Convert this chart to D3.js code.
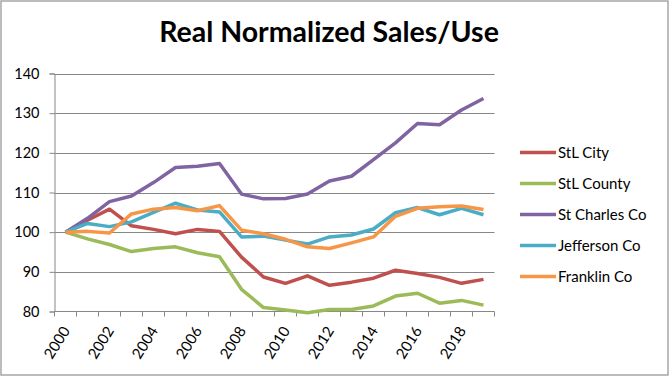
<!DOCTYPE html>
<html>
<head>
<meta charset="utf-8">
<title>Real Normalized Sales/Use</title>
<script src="https://cdn.jsdelivr.net/npm/d3@7"></script>
<style>
  body { margin: 0; background: #fff; }
  svg { display: block; font-family: Lato, "Open Sans", sans-serif; }
</style>
</head>
<body>
<div id="chart"></div>
<script>
  var years = ["2000","2001","2002","2003","2004","2005","2006","2007","2008","2009",
               "2010","2011","2012","2013","2014","2015","2016","2017","2018","2019"];
  var yTicks = [80, 90, 100, 110, 120, 130, 140];

  var seriesNames = ["StL City", "StL County", "St Charles Co", "Jefferson Co", "Franklin Co"];
  var seriesColors = ["#c0504d", "#9bbb59", "#8064a2", "#4bacc6", "#f79646"];

  var stlCity = [100, 103, 105.8, 101.6, 100.7, 99.6, 100.7, 100.2, 93.7, 88.7,
                 87.1, 89.0, 86.6, 87.4, 88.4, 90.4, 89.6, 88.6, 87.1, 88.1];
  var stlCounty = [100, 98.3, 96.9, 95.1, 95.9, 96.3, 94.8, 93.8, 85.6, 81.0,
                   80.4, 79.7, 80.5, 80.5, 81.4, 83.9, 84.6, 82.1, 82.8, 81.6];
  var stCharles = [100, 103.5, 107.7, 109.1, 112.5, 116.3, 116.6, 117.3, 109.6, 108.4,
                   108.5, 109.6, 112.9, 114.1, 118.3, 122.5, 127.4, 127.1, 130.8, 133.7];
  var jefferson = [100, 102.2, 101.4, 102.6, 105.0, 107.3, 105.6, 105.1, 98.8, 99.0,
                   98.0, 97.0, 98.8, 99.3, 100.8, 104.9, 106.2, 104.4, 106.0, 104.4];
  var franklin = [100, 100.2, 99.8, 104.6, 105.8, 106.2, 105.4, 106.7, 100.5, 99.6,
                  98.2, 96.3, 95.9, 97.3, 98.8, 104.0, 106.0, 106.4, 106.6, 105.7];

  var allSeries = [stlCity, stlCounty, stCharles, jefferson, franklin];

  var wid = 669, high = 376;
  var plot = {left: 54.5, right: 494.5, top: 73.5, bottom: 311.5};

  var svg = d3.select("#chart")
    .append("svg")
    .attr("width", wid)
    .attr("height", high);

  svg.append("rect")
    .attr("x", 1).attr("y", 1)
    .attr("width", wid - 2).attr("height", high - 2)
    .attr("fill", "#fff")
    .attr("stroke", "#a6a6a6")
    .attr("stroke-width", 1.5);

  svg.append("text")
    .text("Real Normalized Sales/Use")
    .attr("x", 329)
    .attr("y", 42)
    .attr("text-anchor", "middle")
    .attr("font-size", 28.5)
    .attr("font-weight", "bold")
    .attr("fill", "#000");

  var x = d3.scaleBand()
    .domain(years)
    .range([plot.left, plot.right]);

  var y = d3.scaleLinear()
    .domain([80, 140])
    .range([plot.bottom, plot.top]);

  // gridlines
  svg.append("g")
    .selectAll("line")
    .data(yTicks.slice(1))
    .enter()
    .append("line")
    .attr("x1", plot.left)
    .attr("x2", plot.right)
    .attr("y1", function(d) { return Math.round(y(d)) + 0.5; })
    .attr("y2", function(d) { return Math.round(y(d)) + 0.5; })
    .attr("stroke", "#878787")
    .attr("stroke-width", 1);

  // y axis
  var yaxis = d3.axisLeft(y)
    .tickValues(yTicks)
    .tickSize(5)
    .tickPadding(10);

  var gy = svg.append("g")
    .attr("transform", "translate(" + plot.left + ",0)")
    .call(yaxis);
  gy.select(".domain").attr("stroke", "#878787");
  gy.selectAll(".tick line").attr("stroke", "#878787");
  gy.selectAll(".tick text")
    .attr("font-size", 14.5)
    .attr("font-family", "Lato, sans-serif")
    .attr("fill", "#000");

  // x axis: ticks on category boundaries
  var gx = svg.append("g")
    .attr("transform", "translate(0," + plot.bottom + ")");
  gx.append("line")
    .attr("x1", plot.left).attr("x2", plot.right)
    .attr("y1", 0).attr("y2", 0)
    .attr("stroke", "#878787");
  gx.selectAll(".xt")
    .data(years.concat(["end"]))
    .enter()
    .append("line")
    .attr("class", "xt")
    .attr("x1", function(d, i) { return i < years.length ? x(d) : plot.right; })
    .attr("x2", function(d, i) { return i < years.length ? x(d) : plot.right; })
    .attr("y1", 0).attr("y2", 5)
    .attr("stroke", "#878787");

  gx.selectAll(".xl")
    .data(years.filter(function(d, i) { return i % 2 == 0; }))
    .enter()
    .append("text")
    .attr("class", "xl")
    .text(function(d) { return d; })
    .attr("text-anchor", "end")
    .attr("font-size", 15)
    .attr("fill", "#000")
    .attr("transform", function(d) {
      return "translate(" + (x(d) + x.bandwidth() / 2 + 5) + ",19) rotate(-58)";
    });

  // series lines
  var line = d3.line()
    .x(function(d, i) { return x(years[i]) + x.bandwidth() / 2; })
    .y(function(d) { return y(d); });

  svg.append("g")
    .selectAll("path")
    .data(allSeries)
    .enter()
    .append("path")
    .attr("d", line)
    .attr("fill", "none")
    .attr("stroke", function(d, i) { return seriesColors[i]; })
    .attr("stroke-width", 3.5)
    .attr("stroke-linejoin", "round");

  // legend
  var legend = svg.append("g")
    .selectAll("g")
    .data(seriesNames)
    .enter()
    .append("g")
    .attr("transform", function(d, i) { return "translate(520," + (152.5 + i * 31) + ")"; });

  legend.append("line")
    .attr("x1", 0).attr("x2", 36)
    .attr("stroke", function(d, i) { return seriesColors[i]; })
    .attr("stroke-width", 3.5);

  legend.append("text")
    .text(function(d) { return d; })
    .attr("x", 38)
    .attr("y", 5)
    .attr("font-size", 15)
    .attr("fill", "#000");
</script>
</body>
</html>
